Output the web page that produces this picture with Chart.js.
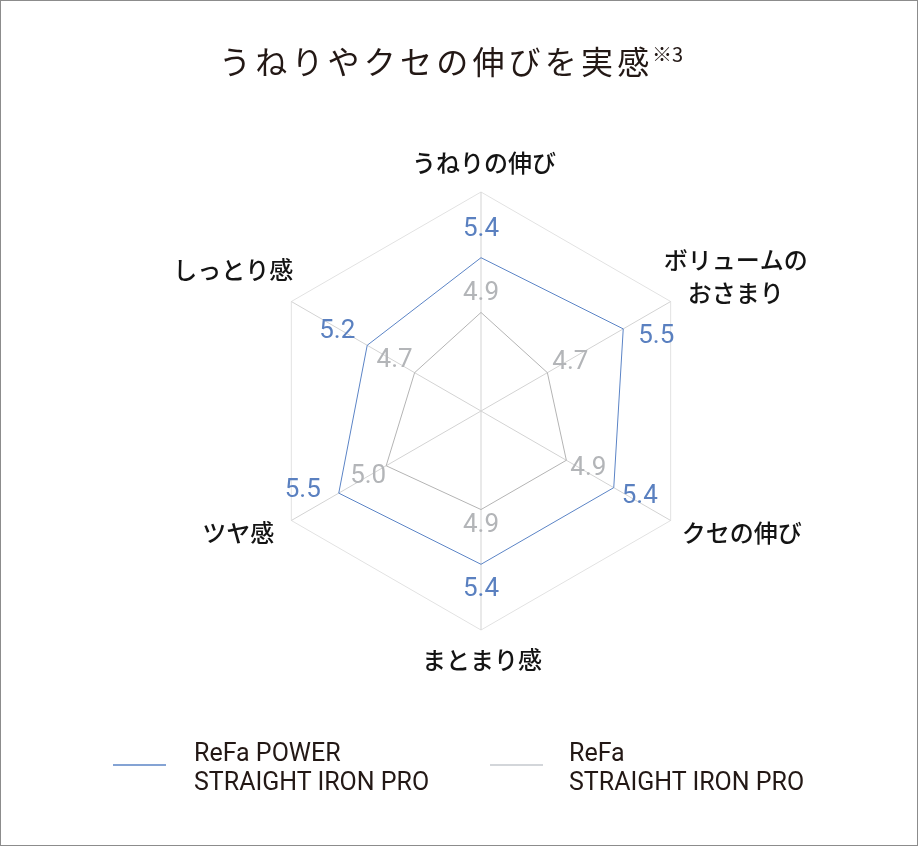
<!DOCTYPE html>
<html lang="ja">
<head>
<meta charset="utf-8">
<title>うねりやクセの伸びを実感</title>
<script src="https://cdn.jsdelivr.net/npm/chart.js@4.4.1/dist/chart.umd.min.js"></script>
<style>
  html, body { margin: 0; padding: 0; background: #fff; }
  #wrap { position: relative; width: 918px; height: 846px; overflow: hidden; color: #231815; }
  #frame { position: absolute; left: 0; top: 0; width: 918px; height: 846px; box-sizing: border-box; border: 1px solid #8c8c8c; pointer-events: none; }
  #chart { position: absolute; left: 0; top: 0; }
  #title { position: absolute; left: 219px; top: 38px; font: 400 32px/44px "Noto Sans CJK JP", sans-serif; letter-spacing: 4.2px; white-space: nowrap; }
  #note { position: absolute; left: 652px; top: 43px; font: 400 20px/22px "Noto Sans CJK JP", sans-serif; white-space: nowrap; }
  .legText { position: absolute; font: 400 25px/29px Roboto, sans-serif; white-space: nowrap; color: #231815; }
</style>
</head>
<body>
<div id="wrap">
  <canvas id="chart" width="918" height="846"></canvas>
  <div id="title">うねりやクセの伸びを実感</div>
  <div id="note">※3</div>
  <div id="legend"></div>
  <div id="frame"></div>
</div>
<script>
// chart values
const categories = ['うねりの伸び', ['ボリュームの', 'おさまり'], 'クセの伸び', 'まとまり感', 'ツヤ感', 'しっとり感'];
const powerValues = [5.4, 5.5, 5.4, 5.4, 5.5, 5.2];
const proValues = [4.9, 4.7, 4.9, 4.9, 5.0, 4.7];
const seriesNames = [['ReFa POWER', 'STRAIGHT IRON PRO'], ['ReFa', 'STRAIGHT IRON PRO']];
const scaleMin = 4;
const scaleMax = 6;

// look
const lineColors = ['#5b84c6', '#b4b4b4'];
const textColors = ['#5a80c0', '#b3b5b8'];
const legendLineColors = ['#5b84c6', '#c4c8ce'];

// where the texts sit, relative to the outer vertex / data point
const axisLabelOffsets = [[3, -29], [65, -25], [71, 12], [1, 30], [-53, 12], [-58, -32]];
const valueOffsets = [
    [[0, -28], [33, 8], [26, 9], [0, 25], [-36, -3], [-30, -14]],
    [[0, -19], [23, -10], [22, 8], [0, 16], [-18, 11], [-20, -12]]
];
const legendPos = [{ line: 113, text: 194 }, { line: 490, text: 569 }];

// legend texts in html
const legendEl = document.getElementById('legend');
seriesNames.forEach((lines, i) => {
    const tx = document.createElement('div');
    tx.className = 'legText';
    tx.style.left = legendPos[i].text + 'px';
    tx.style.top = '738px';
    tx.innerHTML = lines.join('<br>');
    legendEl.appendChild(tx);
});

// axis names, value numbers and legend strokes
const radarText = {
    id: 'radarText',
    afterDatasetsDraw(chart) {
        const ctx = chart.ctx;
        const r = chart.scales.r;
        ctx.save();
        ctx.textAlign = 'center';
        ctx.textBaseline = 'middle';

        ctx.font = '500 24px "Noto Sans CJK JP"';
        ctx.fillStyle = '#141414';
        categories.forEach((name, i) => {
            const p = r.getPointPosition(i, r.drawingArea);
            const off = axisLabelOffsets[i];
            const lines = [].concat(name);
            lines.forEach((t, k) => {
                ctx.fillText(t, p.x + off[0], p.y + off[1] + (k - (lines.length - 1) / 2) * 33);
            });
        });

        ctx.font = '400 26px Roboto';
        chart.data.datasets.forEach((ds, d) => {
            const meta = chart.getDatasetMeta(d);
            ctx.fillStyle = textColors[d];
            meta.data.forEach((pt, i) => {
                const off = valueOffsets[d][i];
                ctx.fillText(ds.data[i].toFixed(1), pt.x + off[0], pt.y + off[1]);
            });
        });

        ctx.lineWidth = 1.3;
        legendPos.forEach((lp, i) => {
            ctx.strokeStyle = legendLineColors[i];
            ctx.beginPath();
            ctx.moveTo(lp.line, 765);
            ctx.lineTo(lp.line + 53, 765);
            ctx.stroke();
        });
        ctx.restore();
    }
};

new Chart(document.getElementById('chart'), {
    type: 'radar',
    data: {
        labels: categories,
        datasets: [
            {
                label: seriesNames[0].join(' '),
                data: powerValues,
                borderColor: lineColors[0],
                borderWidth: 1,
                pointRadius: 0,
                fill: false
            },
            {
                label: seriesNames[1].join(' '),
                data: proValues,
                borderColor: lineColors[1],
                borderWidth: 1,
                pointRadius: 0,
                fill: false
            }
        ]
    },
    options: {
        responsive: false,
        animation: false,
        layout: { padding: { left: 262, right: 218, top: 192, bottom: 216 } },
        plugins: {
            legend: { display: false },
            tooltip: { enabled: false }
        },
        scales: {
            r: {
                min: scaleMin,
                max: scaleMax,
                ticks: { display: false, stepSize: 2 },
                grid: { color: '#e2e2e2', lineWidth: 1 },
                angleLines: { color: '#d3d3d3', lineWidth: 1 },
                pointLabels: { display: false }
            }
        }
    },
    plugins: [radarText]
});
</script>
</body>
</html>
